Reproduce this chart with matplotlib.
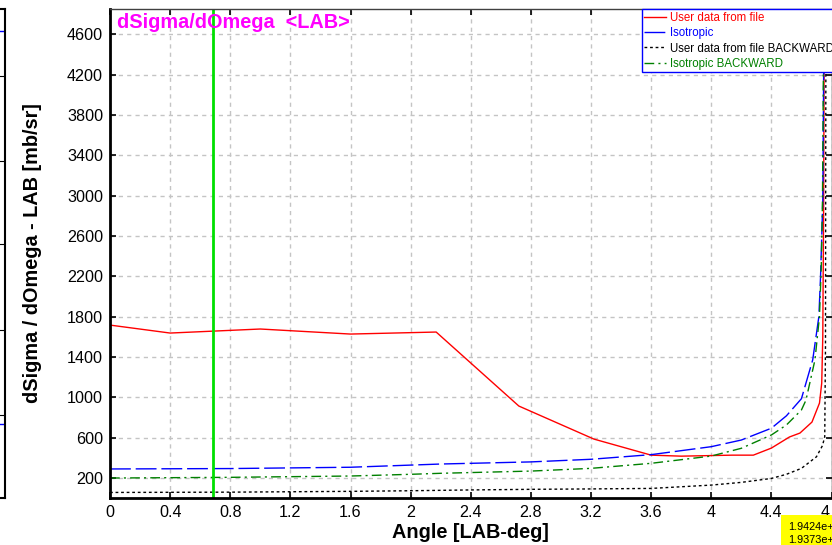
"""dSigma/dOmega in the LAB frame: user data vs isotropic, forward and backward branches."""

import matplotlib
matplotlib.use("Agg")
import matplotlib.pyplot as plt

plt.rcParams["font.family"] = ["Liberation Sans", "DejaVu Sans"]

# Angle [LAB-deg] / cross section [mb/sr]
user_x = [0, 0.4, 1.0, 1.6, 2.17, 2.72, 3.22, 3.6, 3.8, 4.14, 4.28, 4.4, 4.52,
          4.59, 4.67, 4.72, 4.735, 4.742, 4.748, 4.752]
user_y = [1715, 1636, 1676, 1626, 1646, 912, 584, 425, 415, 425, 425, 495, 605,
          644, 753, 941, 1140, 1600, 2950, 4900]

iso_x = [0, 0.8, 1.6, 2.2, 2.8, 3.2, 3.6, 4.0, 4.2, 4.4, 4.5, 4.6, 4.675,
         4.716, 4.727, 4.735, 4.742, 4.748, 4.752]
iso_y = [288, 292, 305, 337, 358, 384, 430, 509, 575, 692, 815, 985, 1370,
         1800, 2190, 2590, 2950, 4250, 4900]

user_bw_x = [0, 0.8, 1.6, 2.0, 2.4, 2.8, 3.2, 3.6, 4.0, 4.2, 4.4, 4.5, 4.6,
             4.7, 4.74, 4.755, 4.76, 4.763]
user_bw_y = [55, 58, 66, 72, 80, 86, 90, 95, 128, 155, 194, 235, 294,
             409, 520, 607, 1500, 4900]

iso_bw_x = [0, 0.8, 1.6, 2.0, 2.2, 2.8, 3.2, 3.6, 4.0, 4.2, 4.4, 4.5, 4.6,
            4.63, 4.69, 4.72, 4.732, 4.74, 4.746, 4.75]
iso_bw_y = [198, 205, 218, 235, 245, 267, 294, 344, 416, 493, 625, 724, 873,
            970, 1370, 1800, 2300, 2950, 4250, 4900]

cursor_angle = 0.685

x_ticks = [0, 0.4, 0.8, 1.2, 1.6, 2.0, 2.4, 2.8, 3.2, 3.6, 4.0, 4.4, 4.8]
x_tick_labels = ["0", "0.4", "0.8", "1.2", "1.6", "2", "2.4", "2.8", "3.2",
                 "3.6", "4", "4.4", "4.8"]
y_ticks = [200, 600, 1000, 1400, 1800, 2200, 2600, 3000, 3400, 3800, 4200, 4600]

readout = ["1.9424e+00", "1.9373e+00"]

# neighbouring panel, only its edge is on screen
side_ticks = [0.17, 0.344, 0.519, 0.689, 0.863]
side_levels = [0.151, 0.955]

W, H = 832, 545


def px(x0, y0, x1, y1):
    return [x0 / W, 1 - y1 / H, (x1 - x0) / W, (y1 - y0) / H]


def graficar():
    fig = plt.figure(figsize=(W / 100, H / 100), dpi=100)

    side = fig.add_axes(px(-90, 9, 5, 498))
    side.set_xlim(0, 1)
    side.set_ylim(0, 1)
    for lvl in side_levels:
        side.axhline(lvl, color="#0000ff", lw=1)
    side.set_yticks(side_ticks)
    side.set_xticks([])
    side.yaxis.tick_right()
    side.tick_params(axis="y", direction="in", length=4, labelright=False)
    for s in side.spines.values():
        s.set_linewidth(1.5)

    ax = fig.add_axes(px(110, 9, 831.5, 498))
    ax.set_xlim(0, 4.8)
    ax.set_ylim(0, 4850)

    ax.plot(user_x, user_y, color="#ff0000", lw=1, label="User data from file")
    ax.plot(iso_x, iso_y, color="#0000ff", lw=1, dashes=(15, 3.5), label="Isotropic")
    ax.plot(user_bw_x, user_bw_y, color="black", lw=1, dashes=(2, 2),
            label="User data from file BACKWARD")
    ax.plot(iso_bw_x, iso_bw_y, color="#008000", lw=1, dashes=(7, 3, 1.5, 3),
            label="Isotropic BACKWARD")
    ax.axvline(cursor_angle, color="#00e000", lw=2)

    ax.set_xticks(x_ticks)
    ax.set_xticklabels(x_tick_labels)
    ax.set_yticks(y_ticks)
    ax.tick_params(direction="in", length=4, width=1.2, labelsize=11.6,
                   top=True, right=True, pad=5)
    ax.grid(True, color="#c4c4c4", linestyle=(0, (3, 3)), lw=1)
    ax.set_axisbelow(True)
    for name, s in ax.spines.items():
        s.set_linewidth(2 if name in ("left", "bottom") else 1)
    ax.spines["top"].set_color("#404040")

    ax.set_xlabel("Angle [LAB-deg]", fontsize=14.3, fontweight="bold", labelpad=2)
    ax.set_ylabel("dSigma / dOmega - LAB [mb/sr]", fontsize=14.3,
                  fontweight="bold", labelpad=18)
    ax.text(117 / W, 1 - 28 / H, "dSigma/dOmega  <LAB>", transform=fig.transFigure,
            color="#ff00ff", fontsize=14.3, fontweight="bold", va="baseline")

    leg = ax.legend(loc="upper left", bbox_to_anchor=(641.7 / W, 1 - 9.3 / H),
                    bbox_transform=fig.transFigure, fontsize=8.3,
                    labelcolor="linecolor", fancybox=False, framealpha=1,
                    edgecolor="#0000ff", borderpad=0.2, borderaxespad=0,
                    handlelength=1.9, handletextpad=0.35, labelspacing=0.3)
    leg.get_frame().set_linewidth(1)

    fig.text(788 / W, 1 - 522 / H, "\n".join(readout), fontsize=7.8,
             va="top", ha="left", linespacing=1.4,
             bbox=dict(facecolor="#ffff00", edgecolor="none", pad=5))

    fig.savefig("out.png", dpi=100)


if __name__ == "__main__":
    graficar()
